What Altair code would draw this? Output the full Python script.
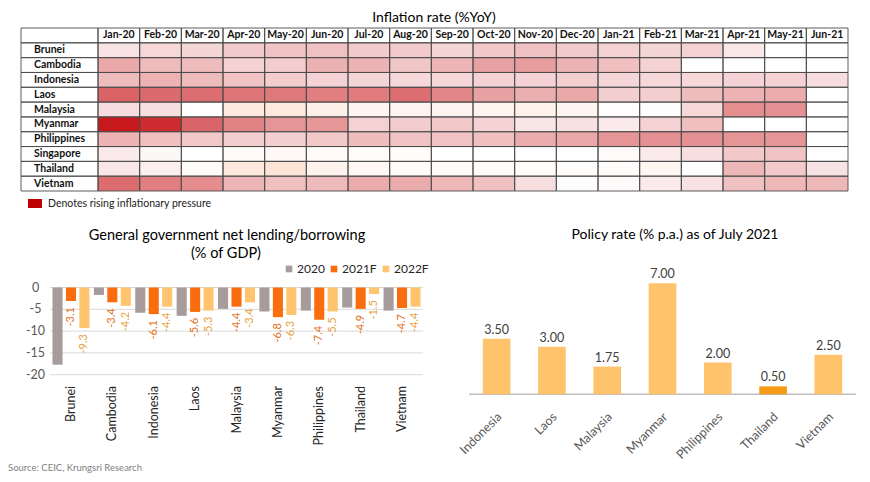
import altair as alt
import pandas as pd

# ---------------- data ----------------
months = ["Jan-20", "Feb-20", "Mar-20", "Apr-20", "May-20", "Jun-20", "Jul-20", "Aug-20", "Sep-20",
          "Oct-20", "Nov-20", "Dec-20", "Jan-21", "Feb-21", "Mar-21", "Apr-21", "May-21", "Jun-21"]
heat_countries = ["Brunei", "Cambodia", "Indonesia", "Laos", "Malaysia", "Myanmar",
                  "Philippines", "Singapore", "Thailand", "Vietnam"]

# approximate inflation (% YoY) read from the cell shading; None = no data
brunei = [1.2, 1.7, 1.8, 2.3, 2.6, 2.7, 2.3, 2.3, 1.8, 2.4, 2.7, 2.3, 2.0, 1.8, 2.0, 1.0, None, None]
cambodia = [3.8, 2.9, 2.9, 1.9, 2.2, 3.4, 3.3, 2.5, 3.2, 4.1, 4.3, 3.3, 2.8, 1.9, None, None, None, None]
indonesia = [2.9, 3.3, 2.9, 2.6, 2.2, 2.0, 1.8, 1.7, 1.7, 2.0, 1.9, 2.1, 1.8, 1.7, 1.7, 1.9, 2.0, 1.5]
laos = [6.8, 6.5, 6.3, 6.0, 5.8, 5.6, 5.7, 6.3, 5.2, 4.1, 3.5, 3.8, 2.1, 2.1, 2.9, 3.3, 3.6, None]
malaysia = [1.5, 1.4, 0.0, -2.9, -2.9, -1.9, -1.3, -1.4, -1.4, -1.5, -1.7, -1.4, -0.2, 0.1, 1.7, 4.9, 4.8, None]
myanmar = [10.0, 9.2, 6.7, 5.4, 4.6, 4.5, 2.0, 2.2, 2.4, 1.9, 1.1, 1.3, 0.9, 1.9, 2.8, None, None, None]
philippines = [3.3, 2.8, 2.4, 2.1, 2.1, 2.4, 2.9, 2.6, 2.6, 2.8, 3.6, 3.8, 4.6, 4.8, 4.8, 4.6, 4.6, None]
singapore = [0.9, 0.3, 0.0, -0.7, -0.8, -0.5, -0.4, -0.4, 0.0, 0.0, -0.1, 0.0, 0.2, 0.9, 1.4, 2.4, 2.6, None]
thailand = [1.1, 0.7, -0.5, -3.0, -3.4, -1.6, -1.0, -0.5, -0.7, -0.5, -0.4, -0.3, -0.3, -1.2, -0.1, 3.1, 2.3, 1.2]
vietnam = [6.4, 5.6, 5.0, 3.2, 2.8, 3.0, 3.6, 3.6, 3.1, 2.7, 1.4, 0.1, 0.2, 0.9, 1.3, 2.7, 3.1, 3.1]

gov_countries = ["Brunei", "Cambodia", "Indonesia", "Laos", "Malaysia", "Myanmar",
                 "Philippines", "Thailand", "Vietnam"]
years = ["2020", "2021F", "2022F"]
gov_2020 = [-17.7, -1.7, -5.8, -6.5, -4.9, -5.5, -5.3, -4.6, -5.3]
gov_2021f = [-3.1, -3.4, -6.1, -5.6, -4.4, -6.8, -7.4, -4.9, -4.7]
gov_2022f = [-9.3, -4.2, -4.4, -5.3, -3.4, -6.3, -5.5, -1.5, -4.4]
gov_ticks = [0, -5, -10, -15, -20]
gov_tick_labels = ["0", "-5", "-10", "-15", "-20"]

pol_countries = ["Indonesia", "Laos", "Malaysia", "Myanmar", "Philippines", "Thailand", "Vietnam"]
pol_rates = [3.50, 3.00, 1.75, 7.00, 2.00, 0.50, 2.50]

# ---------------- tables ----------------
heat_rows = [brunei, cambodia, indonesia, laos, malaysia, myanmar, philippines, singapore, thailand, vietnam]
heat_df = pd.DataFrame([
    {"country": c, "month": m, "value": v}
    for c, row in zip(heat_countries, heat_rows)
    for m, v in zip(months, row)
])
row_keys = ["__hdr"] + heat_countries
grid_df = pd.DataFrame([{"country": r, "month": m} for r in row_keys for m in months])
hdr_df = pd.DataFrame({"month": months, "country": ["__hdr"] * len(months)})
lbl_df = pd.DataFrame({"country": row_keys, "col": ["lbl"] * len(row_keys)})
rowlab_df = pd.DataFrame({"country": heat_countries})

gov_df = pd.DataFrame([
    {"country": c, "year": y, "value": v}
    for y, vals in zip(years, [gov_2020, gov_2021f, gov_2022f])
    for c, v in zip(gov_countries, vals)
])
gov_tick_df = pd.DataFrame({"tick": gov_ticks, "label": gov_tick_labels})
gov_c_df = pd.DataFrame({"country": gov_countries})

pol_df = pd.DataFrame({"country": pol_countries, "rate": pol_rates})

FONT = "Lato"

# ---------------- heatmap ----------------
ysc = alt.Scale(domain=row_keys, range=[20, 183], paddingInner=0, paddingOuter=0)
xsc = alt.Scale(domain=months, range=[90, 840], paddingInner=0, paddingOuter=0)

heat_fill = alt.Chart(heat_df).transform_filter("isValid(datum.value)").mark_rect(strokeWidth=0).encode(
    x=alt.X("month:N", scale=xsc, axis=None),
    y=alt.Y("country:N", scale=ysc, axis=None),
    color=alt.Color("value:Q", legend=None,
                    scale=alt.Scale(domain=[-3.5, 0, 10], range=["#FCE4D6", "#FFFFFF", "#C8191D"],
                                    interpolate="rgb", clamp=True)),
)
heat_grid = alt.Chart(grid_df).mark_rect(fillOpacity=0, stroke="#4a4a4a", strokeWidth=0.9).encode(
    x=alt.X("month:N", scale=xsc, axis=None),
    y=alt.Y("country:N", scale=ysc, axis=None),
)
heat_hdr = alt.Chart(hdr_df).mark_text(font=FONT, fontSize=10.5, fontWeight="bold", color="#111").encode(
    x=alt.X("month:N", scale=xsc, axis=None),
    y=alt.Y("country:N", scale=ysc, axis=None),
    text="month:N",
)
heat = alt.layer(heat_fill, heat_grid, heat_hdr)

lsc = alt.Scale(domain=["lbl"], range=[13, 90], paddingInner=0, paddingOuter=0)
lbl_grid = alt.Chart(lbl_df).mark_rect(fillOpacity=0, stroke="#4a4a4a", strokeWidth=0.9).encode(
    x=alt.X("col:N", scale=lsc, axis=None),
    y=alt.Y("country:N", scale=ysc, axis=None),
)
lbl_text = alt.Chart(rowlab_df).mark_text(font=FONT, fontSize=10.5, fontWeight="bold", align="left",
                                          color="#111").encode(
    x=alt.value(26),
    y=alt.Y("country:N", scale=ysc, axis=None),
    text="country:N",
)
labels = alt.layer(lbl_grid, lbl_text)


def text_at(txt, x, y, size, color="#000", align="center", weight="normal", baseline="alphabetic"):
    return alt.Chart(pd.DataFrame({"t": [txt]})).mark_text(
        font=FONT, fontSize=size, color=color, align=align, fontWeight=weight, baseline=baseline
    ).encode(text="t:N", x=alt.value(x), y=alt.value(y))


heat_title = text_at("Inflation rate (%YoY)", 426, 10, 14, baseline="middle")
legend_sw = alt.Chart(pd.DataFrame({"k": ["Denotes rising inflationary pressure"]})).mark_rect(
    color="#C00000").encode(x=alt.value(20), x2=alt.value(34), y=alt.value(191), y2=alt.value(200))
legend_tx = text_at("Denotes rising inflationary pressure", 40, 195.5, 10.5, color="#222",
                    align="left", baseline="middle")

# ---------------- government balance ----------------
gx = alt.Scale(domain=gov_countries, range=[42, 415], paddingInner=0.107, paddingOuter=0.06)
gy = alt.Scale(domain=[-20, 0], range=[366.7, 279.5], nice=False, zero=False)
gxo = alt.Scale(domain=years, paddingInner=0.25, paddingOuter=0)

g_grid = alt.Chart(gov_tick_df).mark_rule(color="#D9D9D9", strokeWidth=1).encode(
    y=alt.Y("tick:Q", scale=gy, axis=None), x=alt.value(42), x2=alt.value(415))
g_ylab = alt.Chart(gov_tick_df).mark_text(font=FONT, fontSize=12.5, color="#595959", baseline="middle").encode(
    y=alt.Y("tick:Q", scale=gy, axis=None), x=alt.value(27.5), text="label:N")
g_bars = alt.Chart(gov_df).mark_bar().encode(
    x=alt.X("country:N", scale=gx, axis=None),
    xOffset=alt.XOffset("year:N", scale=gxo),
    y=alt.Y("value:Q", scale=gy, axis=None),
    color=alt.Color("year:N", scale=alt.Scale(domain=years, range=["#A79C9B", "#FA6D0E", "#FFC46D"]),
                    legend=alt.Legend(orient="none", legendX=275, legendY=255, direction="horizontal",
                                      title=None, symbolType="square", symbolSize=44, symbolStrokeWidth=0,
                                      labelFont=FONT, labelFontSize=12, labelColor="#262626",
                                      columnPadding=3, labelOffset=2, padding=0)),
)
g_vals = alt.Chart(gov_df).transform_filter("datum.year != '2020'").transform_calculate(
    lbl="toString(datum.value)").mark_text(font=FONT, fontSize=11, angle=270, align="right",
                                          baseline="middle", dx=-6).encode(
    x=alt.X("country:N", scale=gx, axis=None),
    xOffset=alt.XOffset("year:N", scale=gxo),
    y=alt.Y("value:Q", scale=gy, axis=None),
    text="lbl:N",
    color=alt.condition("datum.year == '2021F'", alt.value("#E2721E"), alt.value("#E8A240")),
)
g_xlab = alt.Chart(gov_c_df).mark_text(font=FONT, fontSize=12.5, angle=270, align="right",
                                       baseline="middle", color="#262626").encode(
    x=alt.X("country:N", scale=gx, axis=None), y=alt.value(378), text="country:N")
gov = alt.layer(g_grid, g_ylab, g_bars, g_vals, g_xlab)
gov_t1 = text_at("General government net lending/borrowing", 219, 232, 14.5)
gov_t2 = text_at("(% of GDP)", 218, 250, 14.5)

# ---------------- policy rate ----------------
px = alt.Scale(domain=pol_countries, range=[461, 848], paddingInner=0.5, paddingOuter=0.25)
py = alt.Scale(domain=[0, 7], range=[386.3, 275.3], nice=False)

p_base = alt.Chart(pd.DataFrame({"b": [0]})).mark_rule(color="#BFBFBF", strokeWidth=1.5).encode(
    y=alt.Y("b:Q", scale=py, axis=None), x=alt.value(461), x2=alt.value(848))
p_bars = alt.Chart(pol_df).mark_bar().encode(
    x=alt.X("country:N", scale=px, axis=None),
    y=alt.Y("rate:Q", scale=py, axis=None),
    color=alt.condition("datum.country == 'Thailand'", alt.value("#F59A16"), alt.value("#FFC36B")),
)
p_vals = alt.Chart(pol_df).transform_calculate(lbl="format(datum.rate, '.2f')").mark_text(
    font=FONT, fontSize=12.5, color="#404040", dy=-9).encode(
    x=alt.X("country:N", scale=px, axis=None),
    y=alt.Y("rate:Q", scale=py, axis=None),
    text="lbl:N",
)
p_xlab = alt.Chart(pol_df).mark_text(font=FONT, fontSize=12.5, angle=315, align="right",
                                     baseline="middle", color="#595959", dy=4).encode(
    x=alt.X("country:N", scale=px, axis=None), y=alt.value(404), text="country:N")
pol = alt.layer(p_base, p_bars, p_vals, p_xlab)
pol_t = text_at("Policy rate (% p.a.) as of July 2021", 667, 231, 14)

source = text_at("Source: CEIC, Krungsri Research", 0, 460, 9.5, color="#808080", align="left",
                 baseline="middle")

chart = alt.layer(
    heat, labels, heat_title, legend_sw, legend_tx,
    gov, gov_t1, gov_t2,
    pol, pol_t, source,
).resolve_scale(
    x="independent", y="independent", color="independent"
).properties(
    width=854, height=466, padding=0, autosize=alt.AutoSizeParams(type="none")
).configure_view(strokeWidth=0)

chart.save("out.html", embed_options={"renderer": "svg", "actions": False})
